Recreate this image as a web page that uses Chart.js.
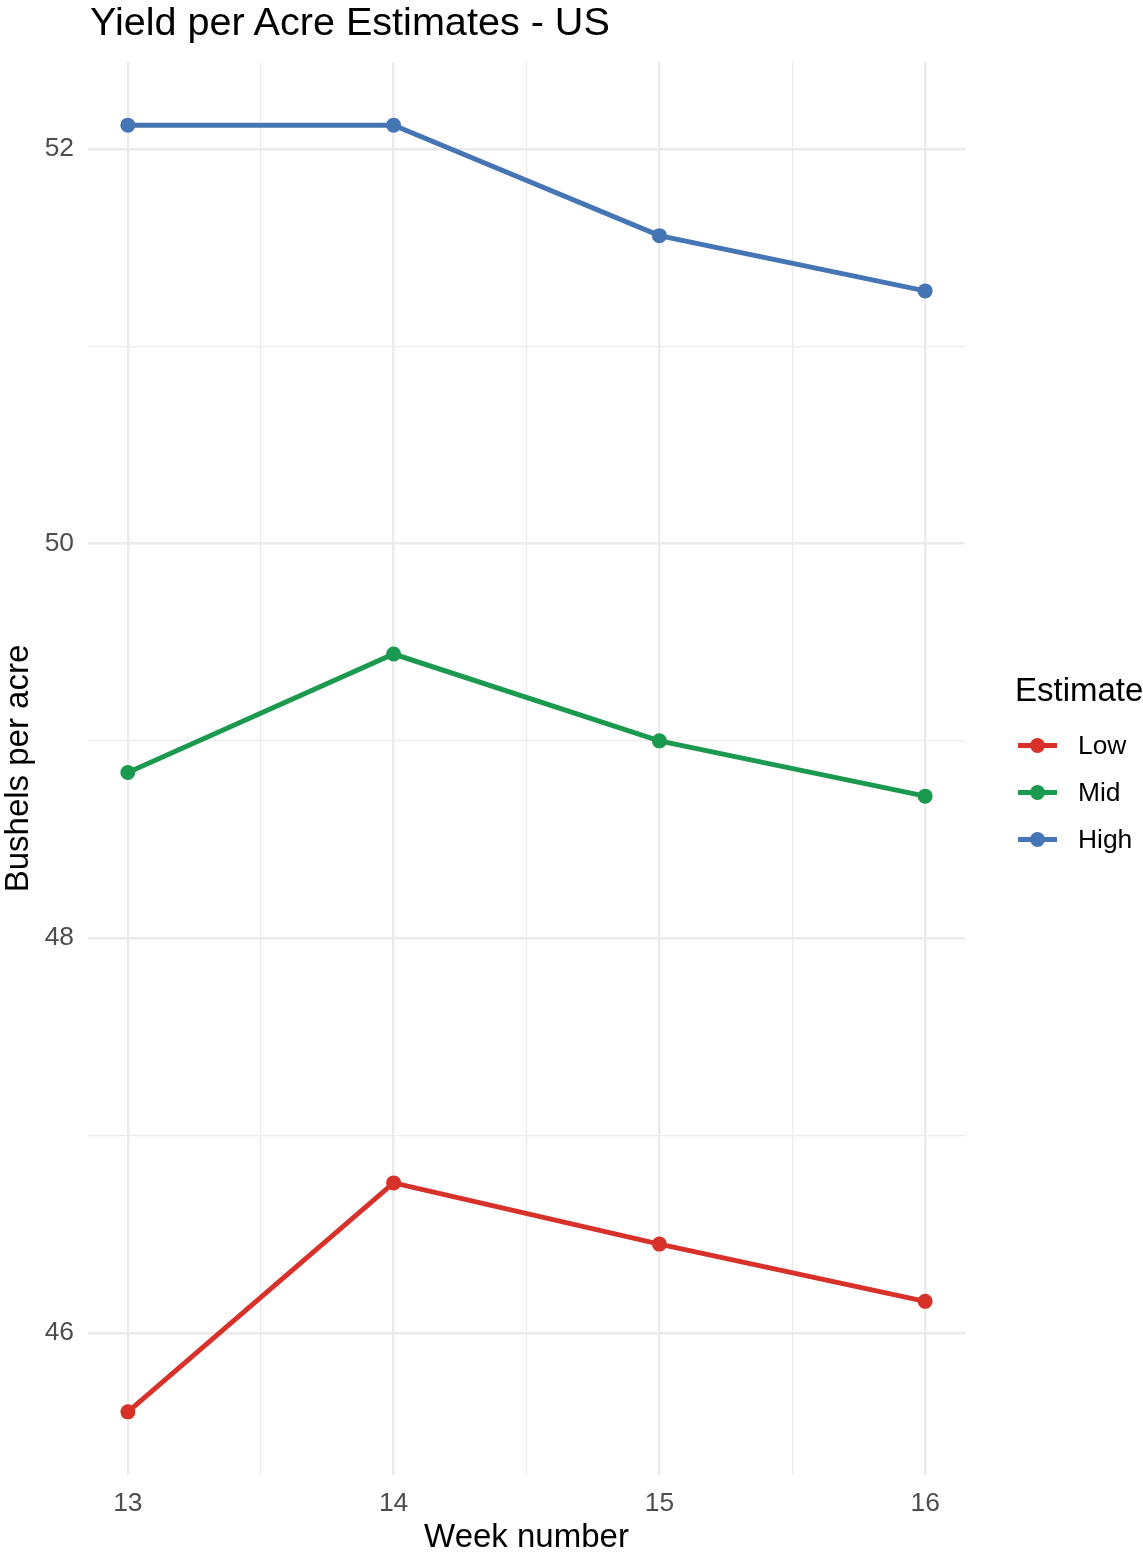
<!DOCTYPE html>
<html>
<head>
<meta charset="utf-8">
<script src="https://cdn.jsdelivr.net/npm/chart.js@4/dist/chart.umd.min.js"></script>
<style>
  html, body { margin: 0; padding: 0; background: #fff; }
  #wrap { position: relative; width: 1143px; height: 1553px; overflow: hidden; }
  #title { position: absolute; left: 90px; top: 1px; font-family: "Liberation Sans", Arial, sans-serif; font-size: 39.6px; line-height: 40px; color: #000; white-space: nowrap; }
  #legend { position: absolute; left: 1015px; top: 670px; font-family: "Liberation Sans", Arial, sans-serif; color: #000; white-space: nowrap; }
  #legend .ttl { font-size: 33px; line-height: 40px; height: 56px; }
  #legend .item { position: relative; height: 47px; font-size: 26.4px; }
  #legend .line { position: absolute; left: 3px; top: 17px; width: 39px; height: 5px; }
  #legend .dot { position: absolute; left: 15px; top: 12px; width: 15px; height: 15px; border-radius: 50%; }
  #legend .lbl { position: absolute; left: 63px; top: 4px; }
</style>
</head>
<body>
<div id="wrap">
  <canvas id="chart" width="1143" height="1553"></canvas>
  <div id="title">Yield per Acre Estimates - US</div>
  <div id="legend"></div>
</div>
<script>
const weeks = [13, 14, 15, 16];
const series_names = ["Low", "Mid", "High"];
const low_values = [45.6, 46.76, 46.45, 46.16];
const mid_values = [48.84, 49.44, 49.0, 48.72];
const high_values = [52.12, 52.12, 51.56, 51.28];
const series_colors = ["#d7312a", "#1b9a4f", "#4575b4"];
const x_ticks = [13, 13.5, 14, 14.5, 15, 15.5, 16];
const y_ticks = [46, 47, 48, 49, 50, 51, 52];

const font_family = "'Liberation Sans', Arial, sans-serif";
const all_values = [low_values, mid_values, high_values];

const datasets = series_names.map((name, i) => ({
  label: name,
  data: weeks.map((w, j) => ({ x: w, y: all_values[i][j] })),
  borderColor: series_colors[i],
  backgroundColor: series_colors[i],
  borderWidth: 5,
  pointRadius: 7.5,
  pointHoverRadius: 7.5,
  pointBorderWidth: 0,
  tension: 0,
}));

// legend on the right, ggplot style
const legend_el = document.getElementById("legend");
legend_el.innerHTML = '<div class="ttl">Estimate</div>' + series_names.map((name, i) =>
  `<div class="item"><span class="line" style="background:${series_colors[i]}"></span>` +
  `<span class="dot" style="background:${series_colors[i]}"></span><span class="lbl">${name}</span></div>`
).join("");

const ctx = document.getElementById("chart").getContext("2d");
new Chart(ctx, {
  type: "line",
  data: { datasets },
  options: {
    responsive: false,
    animation: false,
    layout: { padding: { left: 0, right: 178, top: 62, bottom: 0 } },
    plugins: {
      legend: { display: false },
      tooltip: { enabled: false },
    },
    scales: {
      x: {
        type: "linear",
        min: 12.85,
        max: 16.15,
        afterFit: (scale) => { scale.height = 78; },
        afterBuildTicks: (scale) => { scale.ticks = x_ticks.map((v) => ({ value: v })); },
        border: { display: false },
        grid: {
          drawTicks: false,
          color: "#ebebeb",
          lineWidth: (c) => (c.tick && c.tick.value % 1 === 0 ? 2.4 : 1.2),
        },
        ticks: {
          padding: 13,
          color: "#4d4d4d",
          font: { family: font_family, size: 26.4 },
          callback: (v) => (v % 1 === 0 ? v : ""),
        },
        title: {
          display: true,
          text: "Week number",
          color: "#000",
          font: { family: font_family, size: 33 },
          padding: { top: 0, bottom: -5 },
        },
      },
      y: {
        type: "linear",
        min: 45.28,
        max: 52.44,
        afterFit: (scale) => { scale.width = 88; },
        afterBuildTicks: (scale) => { scale.ticks = y_ticks.map((v) => ({ value: v })); },
        border: { display: false },
        grid: {
          drawTicks: false,
          color: "#ebebeb",
          lineWidth: (c) => (c.tick && c.tick.value % 2 === 0 ? 2.4 : 1.2),
        },
        ticks: {
          padding: 14,
          color: "#4d4d4d",
          font: { family: font_family, size: 26.4 },
          callback: (v) => (v % 2 === 0 ? v : ""),
        },
        title: {
          display: true,
          text: "Bushels per acre",
          color: "#000",
          font: { family: font_family, size: 33 },
          padding: { top: -1, bottom: 0 },
        },
      },
    },
  },
});
</script>
</body>
</html>
